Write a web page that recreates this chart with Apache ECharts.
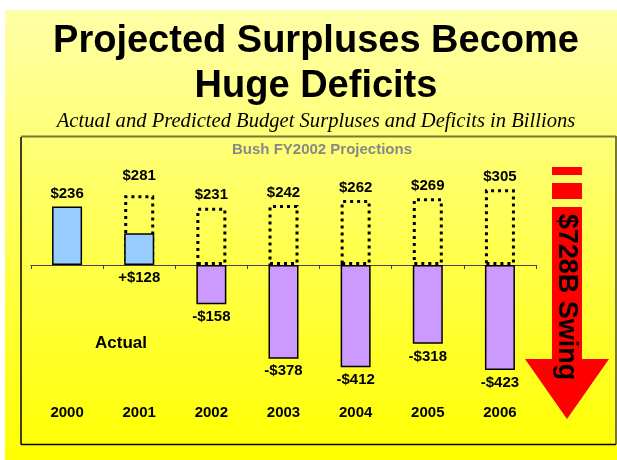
<!DOCTYPE html>
<html>
<head>
<meta charset="utf-8">
<script src="https://cdn.jsdelivr.net/npm/echarts@6/dist/echarts.min.js"></script>
<style>
html,body{margin:0;padding:0;background:#fff;}
#chart{width:617px;height:460px;}
</style>
</head>
<body>
<div id="chart"></div>
<script>
var years = ['2000', '2001', '2002', '2003', '2004', '2005', '2006'];
var actual = [236, 128, -158, -378, -412, -318, -423];
var projected = [null, 281, 231, 242, 262, 269, 305];
var titleLines = ['Projected Surpluses Become', 'Huge Deficits'];
var subtitle = 'Actual and Predicted Budget Surpluses and Deficits in Billions';
var projLabel = 'Bush FY2002 Projections';
var actualLabel = 'Actual';
var swingLabel = '$728B Swing';

var SANS = '"Liberation Sans", Arial, Helvetica, sans-serif';
var SERIF = '"Liberation Serif", "Times New Roman", serif';

var chart = echarts.init(document.getElementById('chart'), null, {renderer: 'canvas'});

var actualData = actual.map(function (v, i) {
  var below = projected[i] != null;
  return {
    value: v,
    itemStyle: {color: v >= 0 ? '#99CCFF' : '#CC99FF'},
    label: {
      position: (v >= 0 && !below) ? 'top' : 'bottom',
      formatter: (v >= 0 ? (below ? '+$' : '$') : '-$') + Math.abs(v)
    }
  };
});

var projData = projected.map(function (v, i) {
  if (v == null) return null;
  var d = {value: v};
  if (i === 1) d.label = {distance: 12};
  return d;
});

var option = {
  backgroundColor: '#ffffff',
  animation: false,
  grid: {left: 31, right: 81, top: 141, bottom: 58.6, containLabel: false},
  xAxis: [{
    type: 'category',
    data: years,
    axisLine: {onZero: true, lineStyle: {color: '#444', width: 1}},
    axisTick: {show: true, length: 4, lineStyle: {color: '#444'}},
    axisLabel: {show: false},
    splitLine: {show: false}
  }, {
    type: 'category',
    data: years,
    position: 'bottom',
    axisLine: {show: false},
    axisTick: {show: false},
    axisLabel: {show: true, margin: 4, color: '#000', fontWeight: 'bold', fontSize: 15, fontFamily: SANS},
    splitLine: {show: false}
  }],
  yAxis: {
    type: 'value', min: -550, max: 500,
    show: false,
    splitLine: {show: false}
  },
  series: [{
    name: 'Projected',
    type: 'bar',
    xAxisIndex: 0,
    barWidth: 30,
    barGap: '-100%',
    data: projData,
    itemStyle: {color: 'rgba(0,0,0,0)', borderColor: '#000', borderWidth: 3, borderType: [3, 4]},
    label: {show: true, position: 'top', distance: 5, color: '#000', fontWeight: 'bold', fontSize: 15, fontFamily: SANS,
      formatter: function (p) { return '$' + p.value; }}
  }, {
    name: 'Actual',
    type: 'bar',
    xAxisIndex: 0,
    barWidth: 30,
    barGap: '-100%',
    data: actualData,
    itemStyle: {borderColor: '#000', borderWidth: 1.5},
    label: {show: true, distance: 5, color: '#000', fontWeight: 'bold', fontSize: 15, fontFamily: SANS}
  }],
  graphic: [
    {type: 'rect', z: -10, silent: true, shape: {x: 5, y: 10, width: 612, height: 450},
      style: {fill: new echarts.graphic.LinearGradient(0, 0, 0, 1, [
        {offset: 0, color: '#FFFFA8'}, {offset: 1, color: '#FFFF00'}])}},
    {type: 'text', x: 316, y: 42, style: {text: titleLines[0], fill: '#000', font: 'bold 38px ' + SANS, textAlign: 'center', textVerticalAlign: 'middle'}},
    {type: 'text', x: 316, y: 87, style: {text: titleLines[1], fill: '#000', font: 'bold 38px ' + SANS, textAlign: 'center', textVerticalAlign: 'middle'}},
    {type: 'text', x: 316, y: 121.5, style: {text: subtitle, fill: '#000', font: 'italic 20.6px ' + SERIF, textAlign: 'center', textVerticalAlign: 'middle'}},
    {type: 'line', shape: {x1: 21, y1: 136.5, x2: 616, y2: 136.5}, style: {stroke: '#77773A', lineWidth: 2}},
    {type: 'line', shape: {x1: 616, y1: 136, x2: 616, y2: 444.5}, style: {stroke: '#77773A', lineWidth: 2}},
    {type: 'line', shape: {x1: 21, y1: 137, x2: 21, y2: 444.5}, style: {stroke: '#000', lineWidth: 1.5}},
    {type: 'line', shape: {x1: 21, y1: 444.5, x2: 616, y2: 444.5}, style: {stroke: '#000', lineWidth: 1.5}},
    {type: 'text', x: 322, y: 150, style: {text: projLabel, fill: '#888888', font: 'bold 15px ' + SANS, textAlign: 'center', textVerticalAlign: 'middle'}},
    {type: 'text', x: 121, y: 343, style: {text: actualLabel, fill: '#000', font: 'bold 17px ' + SANS, textAlign: 'center', textVerticalAlign: 'middle'}},
    {type: 'rect', shape: {x: 552, y: 167, width: 30, height: 8}, style: {fill: '#FF0000'}},
    {type: 'rect', shape: {x: 552, y: 183, width: 30, height: 16}, style: {fill: '#FF0000'}},
    {type: 'polygon', shape: {points: [[552, 207], [582, 207], [582, 359], [609, 359], [567, 419], [525, 359], [552, 359]]}, style: {fill: '#FF0000'}},
    {type: 'text', x: 566, y: 297, rotation: -Math.PI / 2, style: {text: swingLabel, fill: '#000', font: 'bold 27px ' + SANS, textAlign: 'center', textVerticalAlign: 'middle'}}
  ]
};
chart.setOption(option);
</script>
</body>
</html>
